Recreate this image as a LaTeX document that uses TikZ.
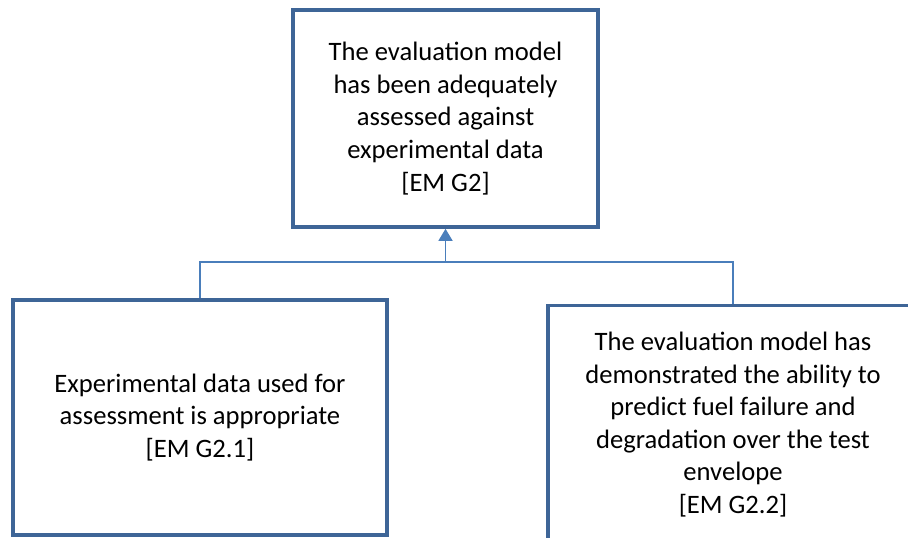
\documentclass[tikz,border=0pt]{standalone}
\usepackage{fontspec}
\setmainfont{Carlito}
\usetikzlibrary{positioning,arrows.meta}
\definecolor{boxblue}{HTML}{3E6597}
\definecolor{linkblue}{HTML}{4A7EBB}

\begin{document}
\begin{tikzpicture}[
x=0.5pt,y=-0.5pt,
goal/.style={
  draw=boxblue,
  line width=1.8pt,
  rectangle,
  align=center,
  font=\fontsize{13.3}{16.3}\selectfont,
  inner sep=0pt
},
link/.style={
  draw=linkblue,
  line width=0.75pt
}
]
\useasboundingbox (0,0) rectangle (908,537);
\clip (0,0) rectangle (908,537);

\node[goal,minimum width=152.5pt,minimum height=108.5pt] at (445.5,118.5)
  (g2) {The evaluation model\\has been adequately\\assessed against\\experimental data\\{[EM G2]}};
\node[goal,minimum width=187pt,minimum height=117.5pt] at (200,417.5)
  (g21) {Experimental data used for\\assessment is appropriate\\{[EM G2.1]}};
\node[goal,minimum width=185pt,minimum height=119pt] at (733,424.5)
  (g22) {The evaluation model has\\demonstrated the ability to\\predict fuel failure and\\degradation over the test\\envelope\\{[EM G2.2]}};

\coordinate (split) at (g2.south |- 0,262);

\draw[link] (g21.north) |- (g22.north |- split) -- (g22.north);
\draw[link,-{Triangle[length=6pt,width=7pt]}] (split) -- (g2.south);
\end{tikzpicture}
\end{document}
